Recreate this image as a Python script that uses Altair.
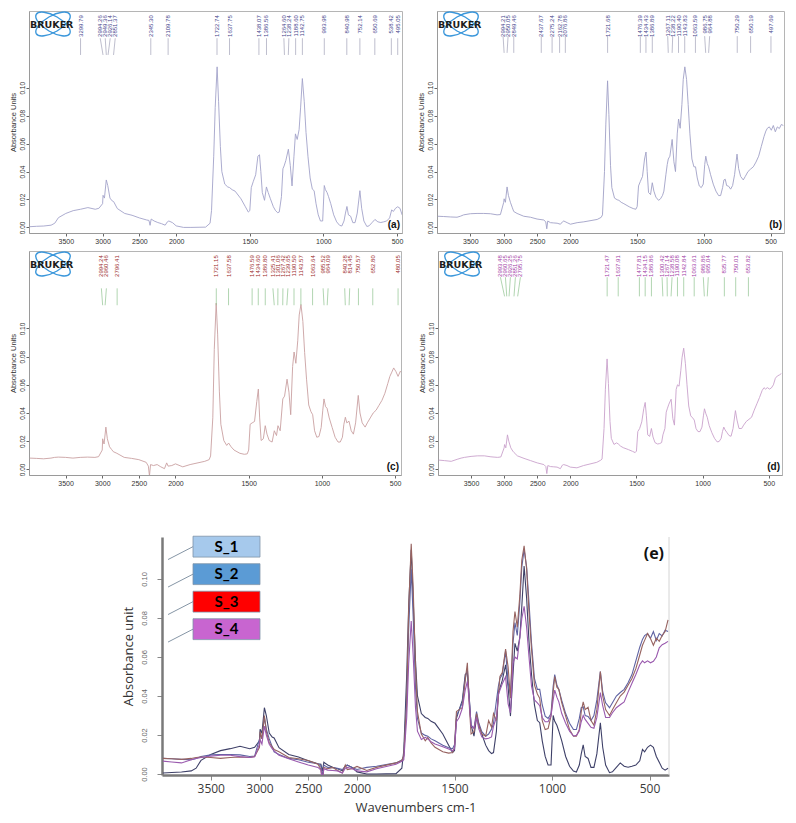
import altair as alt
import pandas as pd

# ---------------- data ----------------
WN = [3990, 3900, 3800, 3700, 3650, 3600, 3500, 3400, 3300, 3200,
      3100, 3050, 3000, 2994, 2975, 2950, 2930, 2900, 2870, 2850,
      2800, 2700, 2600, 2500, 2400, 2370, 2355, 2340, 2300, 2250,
      2200, 2150, 2120, 2100, 2050, 2000, 1950, 1900, 1800, 1770,
      1760, 1745, 1735, 1722, 1712, 1700, 1690, 1670, 1650, 1637,
      1620, 1600, 1560, 1530, 1510, 1500, 1490, 1476, 1460, 1445,
      1434, 1425, 1415, 1400, 1387, 1375, 1360, 1340, 1325, 1310,
      1300, 1285, 1275, 1267, 1255, 1238, 1225, 1213, 1200, 1190,
      1178, 1165, 1155, 1143, 1130, 1118, 1105, 1090, 1075, 1063,
      1050, 1035, 1020, 1005, 994, 986, 975, 965, 950, 930,
      910, 890, 875, 860, 850, 840, 830, 815, 800, 785,
      770, 752, 740, 725, 705, 690, 670, 650, 630, 610,
      590, 570, 550, 536, 525, 510, 495, 480, 465, 450,
      435, 420, 405]

S1 = [0.0005, 0.0008, 0.0010, 0.0016, 0.0030, 0.0070, 0.0100, 0.0120, 0.0130, 0.0142,
      0.0130, 0.0137, 0.0170, 0.0230, 0.0210, 0.0340, 0.0300, 0.0210, 0.0190, 0.0185,
      0.0135, 0.0100, 0.0087, 0.0068, 0.0053, 0.0050, 0.0015, 0.0060, 0.0046, 0.0035,
      0.0027, 0.0016, 0.0040, 0.0046, 0.0034, 0.0011, 0.0000, 0.0000, 0.0002, 0.0030,
      0.0120, 0.0510, 0.0860, 0.1150, 0.0900, 0.0580, 0.0400, 0.0310, 0.0290, 0.0285,
      0.0270, 0.0260, 0.0205, 0.0148, 0.0110, 0.0120, 0.0285, 0.0330, 0.0377, 0.0510,
      0.0520, 0.0400, 0.0250, 0.0194, 0.0290, 0.0250, 0.0205, 0.0148, 0.0120, 0.0105,
      0.0110, 0.0220, 0.0420, 0.0440, 0.0480, 0.0560, 0.0445, 0.0297, 0.0510, 0.0670,
      0.0630, 0.0700, 0.0856, 0.1066, 0.0900, 0.0680, 0.0510, 0.0354, 0.0274, 0.0263,
      0.0170, 0.0090, 0.0046, 0.0046, 0.0300, 0.0270, 0.0250, 0.0220, 0.0170, 0.0090,
      0.0040, 0.0015, 0.0010, 0.0046, 0.0103, 0.0150, 0.0090, 0.0080, 0.0034, 0.0034,
      0.0103, 0.0263, 0.0137, 0.0046, 0.0007, 0.0011, 0.0034, 0.0057, 0.0040, 0.0035,
      0.0040, 0.0046, 0.0068, 0.0126, 0.0114, 0.0137, 0.0148, 0.0137, 0.0090, 0.0060,
      0.0030, 0.0020, 0.0030]

S2 = [0.0080, 0.0078, 0.0075, 0.0073, 0.0080, 0.0090, 0.0098, 0.0100, 0.0100, 0.0098,
      0.0090, 0.0092, 0.0180, 0.0205, 0.0180, 0.0290, 0.0230, 0.0180, 0.0140, 0.0114,
      0.0100, 0.0080, 0.0073, 0.0060, 0.0053, 0.0040, -0.0010, 0.0046, 0.0034, 0.0032,
      0.0030, 0.0023, 0.0040, 0.0046, 0.0034, 0.0023, 0.0034, 0.0040, 0.0057, 0.0072,
      0.0090, 0.0400, 0.0740, 0.1050, 0.0810, 0.0445, 0.0285, 0.0210, 0.0198, 0.0194,
      0.0180, 0.0170, 0.0148, 0.0135, 0.0130, 0.0150, 0.0297, 0.0330, 0.0365, 0.0490,
      0.0540, 0.0400, 0.0250, 0.0235, 0.0320, 0.0260, 0.0217, 0.0194, 0.0205, 0.0230,
      0.0260, 0.0377, 0.0450, 0.0490, 0.0510, 0.0630, 0.0470, 0.0400, 0.0670, 0.0776,
      0.0710, 0.0880, 0.1060, 0.1150, 0.1060, 0.0880, 0.0670, 0.0490, 0.0434, 0.0434,
      0.0354, 0.0297, 0.0285, 0.0310, 0.0450, 0.0510, 0.0457, 0.0434, 0.0377, 0.0310,
      0.0260, 0.0228, 0.0228, 0.0285, 0.0340, 0.0345, 0.0300, 0.0295, 0.0274, 0.0300,
      0.0380, 0.0525, 0.0422, 0.0365, 0.0340, 0.0365, 0.0400, 0.0418, 0.0434, 0.0468,
      0.0510, 0.0580, 0.0650, 0.0690, 0.0710, 0.0720, 0.0696, 0.0730, 0.0685, 0.0720,
      0.0708, 0.0737, 0.0730]

S3 = [0.0080, 0.0078, 0.0075, 0.0080, 0.0085, 0.0087, 0.0085, 0.0080, 0.0085, 0.0087,
      0.0085, 0.0090, 0.0137, 0.0217, 0.0180, 0.0300, 0.0217, 0.0160, 0.0140, 0.0126,
      0.0114, 0.0085, 0.0078, 0.0069, 0.0050, 0.0023, -0.0046, 0.0034, 0.0027, 0.0034,
      0.0018, 0.0005, 0.0046, 0.0023, 0.0027, 0.0039, 0.0018, 0.0034, 0.0057, 0.0069,
      0.0095, 0.0366, 0.0850, 0.1180, 0.0960, 0.0550, 0.0320, 0.0205, 0.0170, 0.0187,
      0.0160, 0.0137, 0.0114, 0.0107, 0.0110, 0.0137, 0.0320, 0.0330, 0.0340, 0.0480,
      0.0570, 0.0365, 0.0205, 0.0217, 0.0310, 0.0250, 0.0205, 0.0194, 0.0274, 0.0240,
      0.0310, 0.0274, 0.0400, 0.0500, 0.0520, 0.0640, 0.0548, 0.0388, 0.0730, 0.0833,
      0.0753, 0.0913, 0.1096, 0.1170, 0.1050, 0.0830, 0.0640, 0.0457, 0.0410, 0.0388,
      0.0274, 0.0228, 0.0233, 0.0297, 0.0420, 0.0500, 0.0445, 0.0434, 0.0365, 0.0297,
      0.0228, 0.0194, 0.0194, 0.0228, 0.0320, 0.0370, 0.0330, 0.0342, 0.0274, 0.0250,
      0.0330, 0.0525, 0.0400, 0.0330, 0.0300, 0.0330, 0.0365, 0.0400, 0.0420, 0.0455,
      0.0490, 0.0540, 0.0610, 0.0660, 0.0685, 0.0720, 0.0695, 0.0660, 0.0696, 0.0680,
      0.0710, 0.0730, 0.0790]

S4 = [0.0066, 0.0062, 0.0057, 0.0073, 0.0080, 0.0085, 0.0092, 0.0096, 0.0096, 0.0089,
      0.0085, 0.0088, 0.0153, 0.0176, 0.0153, 0.0245, 0.0200, 0.0153, 0.0130, 0.0119,
      0.0096, 0.0078, 0.0062, 0.0046, 0.0034, 0.0020, -0.0030, 0.0027, 0.0020, 0.0018,
      0.0016, 0.0005, 0.0030, 0.0034, 0.0027, 0.0016, 0.0011, 0.0027, 0.0050, 0.0065,
      0.0073, 0.0290, 0.0565, 0.0784, 0.0610, 0.0340, 0.0220, 0.0177, 0.0188, 0.0180,
      0.0165, 0.0154, 0.0140, 0.0128, 0.0119, 0.0130, 0.0268, 0.0290, 0.0337, 0.0430,
      0.0475, 0.0380, 0.0245, 0.0234, 0.0290, 0.0230, 0.0190, 0.0180, 0.0183, 0.0190,
      0.0245, 0.0290, 0.0406, 0.0430, 0.0463, 0.0498, 0.0360, 0.0314, 0.0567, 0.0600,
      0.0590, 0.0700, 0.0796, 0.0860, 0.0750, 0.0600, 0.0450, 0.0380, 0.0365, 0.0350,
      0.0290, 0.0268, 0.0268, 0.0300, 0.0380, 0.0430, 0.0394, 0.0370, 0.0310, 0.0260,
      0.0220, 0.0195, 0.0198, 0.0220, 0.0268, 0.0300, 0.0280, 0.0260, 0.0240, 0.0235,
      0.0290, 0.0417, 0.0350, 0.0290, 0.0290, 0.0314, 0.0340, 0.0355, 0.0370, 0.0420,
      0.0465, 0.0510, 0.0560, 0.0580, 0.0570, 0.0580, 0.0570, 0.0578, 0.0600, 0.0647,
      0.0663, 0.0670, 0.0680]

PEAKS_A = ["3299.79", "2994.26", "2949.36", "2926.14", "2851.37", "2345.30", "2109.78",
           "1722.74", "1637.75", "1438.07", "1386.56", "1264.60", "1238.24", "1188.60",
           "1142.75", "993.98", "840.98", "752.14", "650.69", "538.42", "495.05"]
PEAKS_B = ["2994.21", "2950.05", "2849.46", "2437.67", "2275.24", "2162.78", "2076.86",
           "1721.68", "1476.39", "1434.43", "1386.89", "1267.11", "1238.22", "1190.40",
           "1143.83", "1063.59", "986.75", "964.88", "750.29", "650.19", "497.69"]
PEAKS_C = ["2994.24", "2960.46", "2796.41", "1721.15", "1637.58", "1476.59", "1434.60",
           "1386.80", "1325.41", "1301.06", "1267.42", "1239.65", "1190.50", "1143.57",
           "1063.64", "985.52", "964.09", "840.28", "814.45", "750.57", "652.80", "480.05"]
PEAKS_D = ["2993.48", "2960.65", "2926.25", "2851.26", "2795.75", "1721.47", "1637.91",
           "1477.81", "1434.15", "1386.86", "1300.42", "1267.14", "1238.58", "1190.08",
           "1142.84", "1063.61", "986.86", "965.04", "835.77", "750.01", "653.82"]

SAMPLES = ["S_1", "S_2", "S_3", "S_4"]
X_TICKS = [3500, 3000, 2500, 2000, 1500, 1000, 500]
Y_TICKS = [0.0, 0.02, 0.04, 0.06, 0.08, 0.10]

for s in (S1, S2, S3, S4):
    assert len(s) == len(WN)

# ---------------- styles ----------------
FONT = "Liberation Sans"
LINE_E = ["#3e4068", "#5f63a3", "#976360", "#9a5aae"]
BOX_E = ["#a6c9ec", "#5b9bd5", "#ff0000", "#c865d0"]
LOGO_PATH = ("M -0.866 -0.5 A 1 0.42 30 0 1 0.866 0.5 A 1 0.42 30 0 1 -0.866 -0.5 Z "
             "M -0.866 0.5 A 1 0.42 -30 0 1 0.866 -0.5 A 1 0.42 -30 0 1 -0.866 0.5 Z")


def brk(end, w):
    # Bruker-style axis: region below 2000 cm-1 drawn at double scale
    return w * 2000.0 / (2000.0 + 2.0 * (2000.0 - end))


def to_px(v, end, w):
    b = brk(end, w)
    if v >= 2000:
        return (4000.0 - v) / 2000.0 * b
    return b + (2000.0 - v) / (2000.0 - end) * (w - b)


def from_px(p, end, w):
    b = brk(end, w)
    if p <= b:
        return 4000.0 - p / b * 2000.0
    return 2000.0 - (p - b) / (w - b) * (2000.0 - end)


def spread(ps, gap):
    groups = [[p] for p in ps]

    def place(g):
        c = sum(g) / len(g)
        s = c - gap * (len(g) - 1) / 2.0
        return [s + k * gap for k in range(len(g))]

    merged = True
    while merged:
        merged = False
        out = [groups[0]]
        for g in groups[1:]:
            if place(out[-1])[-1] + gap > place(g)[0] + 1e-9:
                out[-1] = out[-1] + g
                merged = True
            else:
                out.append(g)
        groups = out
    res = []
    for g in groups:
        res += place(g)
    return res


one = pd.DataFrame({"k": [0]})


def panel(values, peaks, end, W, H, line_color, text_color, tick_color, tag, r_top, r_bot):
    xs = alt.Scale(domain=[4000, 2000, end], range=[0, brk(end, W), W], nice=False, zero=False)
    ys = alt.Scale(domain=[-0.004, 0.155], nice=False, zero=False)
    df = pd.DataFrame({"wn": WN, "ab": values})
    pv = [float(p) for p in peaks]
    px = [to_px(p, end, W) for p in pv]
    order = sorted(range(len(px)), key=lambda i: px[i])
    sp = spread([px[i] for i in order], 5.0)
    pos = [0.0] * len(px)
    for k, i in enumerate(order):
        pos[i] = from_px(sp[k], end, W)
    pk = pd.DataFrame({"label": peaks, "peak": pv, "pos": pos})

    xaxis = alt.Axis(values=X_TICKS, format="d", title=None, labelFont=FONT, labelFontSize=7,
                     labelColor="#333333", tickSize=3, tickColor="#666666",
                     domainColor="#9a9a9a", labelPadding=1)
    yaxis = alt.Axis(values=Y_TICKS, format=".2f", title="Absorbance Units",
                     labelAngle=270, labelAlign="center", labelBaseline="bottom",
                     labelFont=FONT, labelFontSize=6.5, labelColor="#333333",
                     tickSize=3, tickColor="#666666", domainColor="#9a9a9a",
                     labelPadding=1, titleFont=FONT, titleFontSize=7.5,
                     titleFontWeight="normal", titleColor="#333333", titlePadding=2)

    line = alt.Chart(df).mark_line(color=line_color, strokeWidth=0.9, clip=True).encode(
        x=alt.X("wn:Q", scale=xs, axis=xaxis),
        y=alt.Y("ab:Q", scale=ys, axis=yaxis),
    )
    rules = alt.Chart(pk).mark_rule(color=tick_color, strokeWidth=0.7).encode(
        x=alt.X("pos:Q", scale=xs, axis=xaxis),
        x2="peak",
        y=alt.YDatum(r_top, scale=ys, axis=yaxis),
        y2=alt.Y2Datum(r_bot),
    )
    texts = alt.Chart(pk).mark_text(angle=270, align="right", baseline="middle",
                                    fontSize=6, font=FONT, color=text_color).encode(
        x=alt.X("pos:Q", scale=xs, axis=xaxis),
        y=alt.YDatum(0.152, scale=ys, axis=yaxis),
        text="label:N",
    )
    logo_shape = alt.Chart(one).mark_point(shape=LOGO_PATH, size=1500, filled=False,
                                           color="#3b97db", strokeWidth=1.4,
                                           opacity=1).encode(
        x=alt.value(24), y=alt.value(13))
    logo_text = alt.Chart(one).mark_text(text="BRUKER", font="DejaVu Sans", fontWeight="bold",
                                         fontSize=9.5, align="left", baseline="middle",
                                         color="#1d1d1d").encode(
        x=alt.value(1), y=alt.value(14))
    tag_t = alt.Chart(one).mark_text(text=tag, font=FONT, fontWeight="bold", fontSize=10,
                                     align="right", baseline="alphabetic",
                                     color="#111111").encode(
        x=alt.value(W - 2), y=alt.value(H - 5))
    return alt.layer(line, rules, texts, logo_shape, logo_text, tag_t).properties(
        width=W, height=H)


pa = panel(S1, PEAKS_A, 466, 373, 222, "#a3a3c9", "#45458c", "#a2a2b8", "(a)", 0.1355, 0.1235)
pb = panel(S2, PEAKS_B, 400, 347, 222, "#a0a0c6", "#45458c", "#a2a2b8", "(b)", 0.1370, 0.1250)
pc = panel(S3, PEAKS_C, 460, 372, 224, "#c9a0a2", "#9b2b2b", "#8fc38f", "(c)", 0.1285, 0.1165)
pd_ = panel(S4, PEAKS_D, 400, 344, 224, "#caa2cc", "#a23ca6", "#8fc38f", "(d)", 0.1364, 0.1228)

# ---------------- panel (e) ----------------
WE, HE = 507, 238
xs_e = alt.Scale(domain=[4000, 2000, 400], range=[0, brk(400, WE), WE], nice=False, zero=False)
ys_e = alt.Scale(domain=[-0.0005, 0.1215], nice=False, zero=False)

rows = []
for name, vals in zip(SAMPLES, [S1, S2, S3, S4]):
    for w, a in zip(WN, vals):
        rows.append({"wn": w, "ab": a, "sample": name})
df_e = pd.DataFrame(rows)

LEG_TOP, LEG_STEP, LEG_H, LEG_DROP = 0.1219, 0.0141, 0.0107, 0.0066
leg = pd.DataFrame({"name": SAMPLES, "box": BOX_E})
leg["y0"] = [LEG_TOP - i * LEG_STEP for i in range(len(SAMPLES))]
leg["y1"] = leg["y0"] - LEG_H
leg["ym"] = (leg["y0"] + leg["y1"]) / 2.0
leg["ylo"] = leg["ym"] - LEG_DROP

xaxis_e = alt.Axis(values=X_TICKS, format="d", title="Wavenumbers cm-1", labelFont="Open Sans",
                   labelFontSize=12, labelColor="#3a3a3a", tickSize=5, tickColor="#888888",
                   domainColor="#7a7a7a", domainWidth=2.5, labelPadding=3,
                   titleFont="Open Sans", titleFontSize=13, titleFontWeight="normal",
                   titleColor="#333333", titlePadding=7)
yaxis_e = alt.Axis(values=Y_TICKS, format=".2f", title="Absorbance unit", labelAngle=270,
                   labelAlign="center", labelBaseline="bottom", labelFont=FONT,
                   labelFontSize=7.5, labelColor="#666666", tickSize=5, tickColor="#888888",
                   domainColor="#7a7a7a", domainWidth=2.5, labelPadding=9,
                   titleFont="Open Sans", titleFontSize=13, titleFontWeight="normal",
                   titleColor="#333333", titlePadding=5)

lines_e = alt.Chart(df_e).mark_line(strokeWidth=1.1, clip=True).encode(
    x=alt.X("wn:Q", scale=xs_e, axis=xaxis_e),
    y=alt.Y("ab:Q", scale=ys_e, axis=yaxis_e),
    color=alt.Color("sample:N", scale=alt.Scale(domain=SAMPLES, range=LINE_E), legend=None),
)
leaders = alt.Chart(leg).mark_rule(color="#8696a6", strokeWidth=1).encode(
    x=alt.XDatum(3938, scale=xs_e, axis=xaxis_e),
    x2=alt.X2Datum(3682),
    y=alt.Y("ylo:Q", scale=ys_e, axis=yaxis_e),
    y2="ym",
)
boxes = alt.Chart(leg).mark_rect(stroke="#7f93a8", strokeWidth=0.8).encode(
    x=alt.XDatum(3682, scale=xs_e, axis=xaxis_e),
    x2=alt.X2Datum(2995),
    y=alt.Y("y0:Q", scale=ys_e, axis=yaxis_e),
    y2="y1",
    fill=alt.Fill("box:N", scale=None),
)
box_text = alt.Chart(leg).mark_text(font="Lato", fontWeight="bold", fontSize=15,
                                    align="center", baseline="middle", color="#000000").encode(
    x=alt.XDatum(3338, scale=xs_e, axis=xaxis_e),
    y=alt.Y("ym:Q", scale=ys_e, axis=yaxis_e),
    text="name:N",
)
tag_e = alt.Chart(one).mark_text(text="(e)", font="Open Sans", fontWeight="bold", fontSize=16,
                                 align="right", baseline="alphabetic", color="#111111").encode(
    x=alt.value(WE - 5), y=alt.value(22))
right_edge = alt.Chart(one).mark_rule(color="#d4d4d4", strokeWidth=1).encode(
    x=alt.value(WE), y=alt.value(0), y2=alt.value(HE))

pe = alt.layer(right_edge, lines_e, leaders, boxes, box_text, tag_e).properties(
    width=WE, height=HE, view=alt.ViewBackground(stroke="transparent"))

spacer = alt.Chart(one).mark_text(text=" ").encode(
    x=alt.value(0), y=alt.value(0)).properties(
    width=75, height=10, view=alt.ViewBackground(stroke="transparent"))

row1 = alt.hconcat(pa, pb, spacing=12)
row2 = alt.hconcat(pc, pd_, spacing=15)
row3 = alt.hconcat(spacer, pe, spacing=16)
top = alt.vconcat(row1, row2, spacing=3)

chart = alt.vconcat(top, row3, spacing=43).properties(
    padding={"left": 0, "top": 0, "right": 0, "bottom": 0},
    background="white",
).configure_view(stroke="#b5b5b5", strokeWidth=1).configure_axis(grid=False)

chart.save("out.html", embed_options={"renderer": "svg", "actions": False})
